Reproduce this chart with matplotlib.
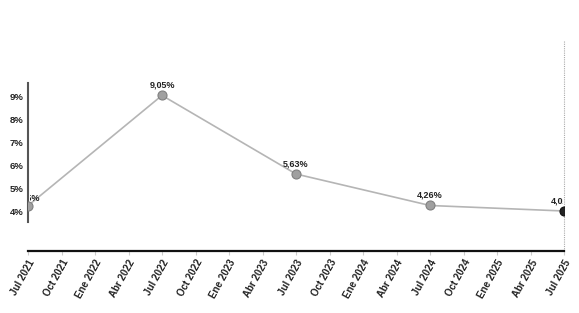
import matplotlib
matplotlib.use("Agg")
import matplotlib.pyplot as plt
from matplotlib.transforms import Bbox, TransformedBbox

plt.rcParams['font.family'] = ['Liberation Sans', 'DejaVu Sans']

tick_labels = ["Jul 2021", "Oct 2021", "Ene 2022", "Abr 2022", "Jul 2022", "Oct 2022",
               "Ene 2023", "Abr 2023", "Jul 2023", "Oct 2023", "Ene 2024", "Abr 2024",
               "Jul 2024", "Oct 2024", "Ene 2025", "Abr 2025", "Jul 2025"]
point_dates = ["Jul 2021", "Jul 2022", "Jul 2023", "Jul 2024", "Jul 2025"]
values = [4.25, 9.05, 5.63, 4.26, 4.02]
point_labels = ["4,25%", "9,05%", "5,63%", "4,26%", "4,02%"]
yticks = [4, 5, 6, 7, 8, 9]

fig = plt.figure(figsize=(5.79, 3.13), dpi=100)
ax = fig.add_axes([28/579, (313-251)/313, (564-28)/579, (251-83)/313])

clip_box = TransformedBbox(Bbox([[0.003, -0.5], [0.998, 1.5]]), ax.transAxes)

xs = [tick_labels.index(d) for d in point_dates]
ax.plot(xs, values, color="#b5b5b5", lw=1.2, zorder=2)
colors = ["#a0a0a0", "#a0a0a0", "#a0a0a0", "#a0a0a0", "#222222"]
offsets = [0.12, 0.25, 0.25, 0.25, 0.25]
for x, v, c, lab, off in zip(xs, values, colors, point_labels, offsets):
    ax.plot(x, v, 'o', ms=6.5, color=c, mec="#808080" if c != "#222222" else "#111111",
            mew=0.8, zorder=3)
    t = ax.text(x, v + off, lab, ha="center", va="bottom", fontsize=6.5,
                fontweight="bold", color="#222222", zorder=4)
    t.set_clip_on(True)
    t.set_clip_box(clip_box)

ax.set_xlim(0, 16)
ax.set_ylim(2.28, 9.59)
ax.set_xticks(range(len(tick_labels)))
ax.set_xticklabels(tick_labels, rotation=61, ha="right", rotation_mode="anchor",
                   fontsize=7, fontweight="bold", color="#222222")
ax.set_yticks(yticks)
ax.set_yticklabels([f"{y}%" for y in yticks], fontsize=6.8, fontweight="bold", color="#222222")
ax.tick_params(axis="y", length=0, pad=3)
ax.tick_params(axis="x", length=3, color="#cccccc", pad=2)

for s in ["top", "right"]:
    ax.spines[s].set_visible(False)
ax.spines["left"].set_bounds(3.54, 9.59)
ax.spines["left"].set_color("#555555")
ax.spines["left"].set_linewidth(1.5)
ax.spines["bottom"].set_color("#111111")
ax.spines["bottom"].set_linewidth(1.6)

ax.plot([16, 16], [2.28, 11.4], color="#aaaaaa", lw=0.8, ls=(0, (1, 1)),
        clip_on=False, zorder=1)

fig.savefig("out.png", dpi=100)
